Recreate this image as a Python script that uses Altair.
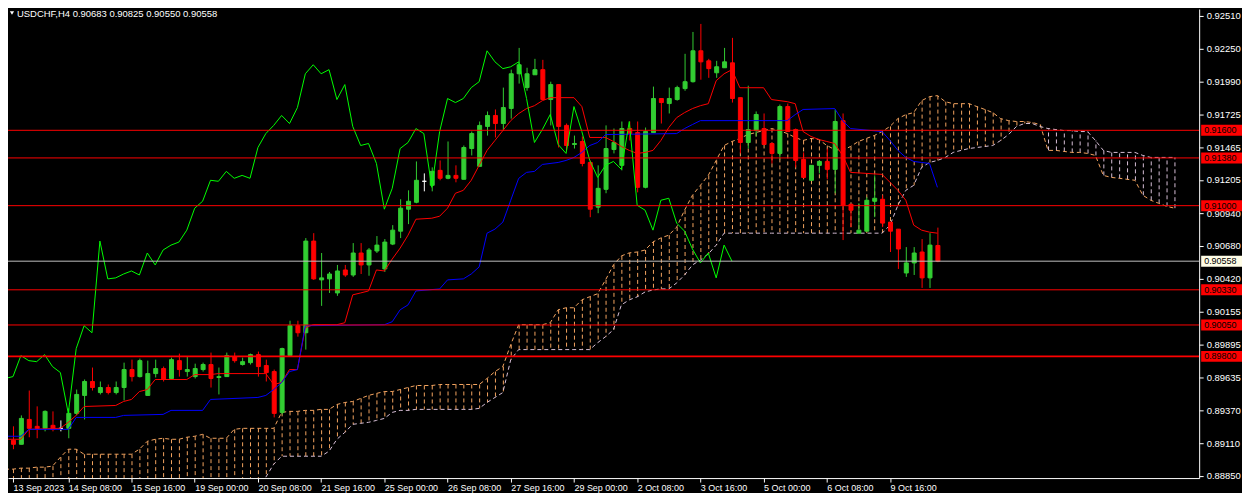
import altair as alt
import pandas as pd
import numpy as np

# ---------------- candles: USDCHF H4, bar 0 = 13 Sep 2023 00:00 ----------------
opens = [
    0.88918, 0.89132, 0.89100, 0.89298, 0.89243, 0.89227, 0.89251, 0.89227, 0.89227, 0.89346,
    0.89489, 0.89600, 0.89512, 0.89552, 0.89512, 0.89552, 0.89695, 0.89639, 0.89489, 0.89663,
    0.89703, 0.89624, 0.89766, 0.89679, 0.89639, 0.89695, 0.89735, 0.89632, 0.89639, 0.89798,
    0.89735, 0.89750, 0.89814, 0.89727, 0.89679, 0.89354, 0.89806, 0.90044, 0.89988, 0.90718,
    0.90409, 0.90417, 0.90305, 0.90488, 0.90448, 0.90623, 0.90528, 0.90639, 0.90496, 0.90694,
    0.90797, 0.90972, 0.91027, 0.91194, 0.91162, 0.91281, 0.91218, 0.91241, 0.91210, 0.91455,
    0.91313, 0.91631, 0.91718, 0.91654, 0.91774, 0.92050, 0.91940, 0.92042, 0.92083, 0.91845,
    0.91964, 0.91639, 0.91487, 0.91511, 0.91344, 0.90988, 0.91130, 0.91447, 0.91321, 0.91614,
    0.91582, 0.91146, 0.91582, 0.91853, 0.91813, 0.91845, 0.91932, 0.91987, 0.92233, 0.92153,
    0.92058, 0.92098, 0.92137, 0.91860, 0.91503, 0.91598, 0.91614, 0.91495, 0.91416, 0.91789,
    0.91606, 0.91368, 0.91202, 0.91321, 0.91352, 0.91289, 0.91677, 0.91011, 0.90781, 0.90797,
    0.91035, 0.91051, 0.90869, 0.90813, 0.90464, 0.90544, 0.90631, 0.90425, 0.90683]
highs = [
    0.89156, 0.89243, 0.89330, 0.89528, 0.89402, 0.89370, 0.89362, 0.89290, 0.89386, 0.89536,
    0.89616, 0.89711, 0.89600, 0.89576, 0.89600, 0.89750, 0.89774, 0.89782, 0.89766, 0.89774,
    0.89719, 0.89790, 0.89822, 0.89798, 0.89742, 0.89750, 0.89830, 0.89711, 0.89830, 0.89830,
    0.89790, 0.89822, 0.89838, 0.89774, 0.89695, 0.89869, 0.90084, 0.90084, 0.90742, 0.90781,
    0.90623, 0.90472, 0.90528, 0.90528, 0.90702, 0.90702, 0.90663, 0.90758, 0.90734, 0.90845,
    0.91051, 0.91122, 0.91352, 0.91257, 0.91305, 0.91360, 0.91511, 0.91321, 0.91479, 0.91590,
    0.91670, 0.91750, 0.91766, 0.91940, 0.92083, 0.92256, 0.92098, 0.92169, 0.92161, 0.91987,
    0.91964, 0.91654, 0.91558, 0.91551, 0.91360, 0.91321, 0.91639, 0.91614, 0.91670, 0.91670,
    0.91670, 0.91622, 0.91948, 0.91853, 0.91940, 0.91955, 0.92209, 0.92383, 0.92447, 0.92169,
    0.92153, 0.92256, 0.92336, 0.91860, 0.91955, 0.91750, 0.91734, 0.91503, 0.91805, 0.91813,
    0.91614, 0.91424, 0.91321, 0.91360, 0.91455, 0.91766, 0.91734, 0.91011, 0.91019, 0.91067,
    0.91241, 0.91083, 0.90869, 0.90813, 0.90670, 0.90670, 0.90734, 0.90781, 0.90825]
lows = [
    0.88902, 0.89061, 0.89100, 0.89156, 0.89148, 0.89203, 0.89203, 0.89203, 0.89148, 0.89330,
    0.89298, 0.89528, 0.89497, 0.89497, 0.89497, 0.89449, 0.89600, 0.89632, 0.89489, 0.89632,
    0.89600, 0.89616, 0.89639, 0.89639, 0.89624, 0.89679, 0.89552, 0.89497, 0.89639, 0.89750,
    0.89727, 0.89735, 0.89639, 0.89600, 0.89314, 0.89338, 0.89806, 0.89957, 0.89854, 0.90409,
    0.90202, 0.90305, 0.90282, 0.90433, 0.90433, 0.90456, 0.90442, 0.90623, 0.90472, 0.90686,
    0.90742, 0.90853, 0.91019, 0.91114, 0.91114, 0.91202, 0.91210, 0.91186, 0.91210, 0.91400,
    0.91313, 0.91558, 0.91543, 0.91598, 0.91693, 0.91972, 0.91915, 0.92042, 0.91845, 0.91639,
    0.91463, 0.91440, 0.91455, 0.91313, 0.90908, 0.90940, 0.91099, 0.91416, 0.91281, 0.91519,
    0.91106, 0.91138, 0.91582, 0.91654, 0.91734, 0.91836, 0.91915, 0.91980, 0.92003, 0.92018,
    0.92018, 0.92098, 0.91821, 0.91416, 0.91455, 0.91551, 0.91487, 0.91336, 0.91368, 0.91590,
    0.91305, 0.91218, 0.91202, 0.91257, 0.91210, 0.91099, 0.90726, 0.90829, 0.90781, 0.90797,
    0.90908, 0.90829, 0.90631, 0.90496, 0.90433, 0.90448, 0.90345, 0.90345, 0.90550]
closes = [
    0.89140, 0.89100, 0.89306, 0.89227, 0.89227, 0.89362, 0.89219, 0.89227, 0.89346, 0.89497,
    0.89600, 0.89552, 0.89552, 0.89512, 0.89552, 0.89695, 0.89639, 0.89766, 0.89663, 0.89703,
    0.89616, 0.89774, 0.89695, 0.89695, 0.89703, 0.89735, 0.89624, 0.89639, 0.89806, 0.89766,
    0.89758, 0.89814, 0.89719, 0.89671, 0.89346, 0.89862, 0.90044, 0.89988, 0.90718, 0.90417,
    0.90425, 0.90456, 0.90480, 0.90448, 0.90623, 0.90528, 0.90647, 0.90686, 0.90710, 0.90805,
    0.90980, 0.91035, 0.91202, 0.91194, 0.91273, 0.91218, 0.91241, 0.91218, 0.91463, 0.91574,
    0.91639, 0.91718, 0.91654, 0.91781, 0.92050, 0.92122, 0.92050, 0.92083, 0.91845, 0.91964,
    0.91631, 0.91479, 0.91495, 0.91336, 0.90972, 0.91138, 0.91455, 0.91503, 0.91614, 0.91574,
    0.91146, 0.91590, 0.91853, 0.91821, 0.91853, 0.91940, 0.91987, 0.92233, 0.92145, 0.92091,
    0.92106, 0.92145, 0.91853, 0.91503, 0.91606, 0.91726, 0.91487, 0.91416, 0.91789, 0.91590,
    0.91360, 0.91225, 0.91321, 0.91352, 0.91289, 0.91670, 0.91003, 0.90964, 0.90805, 0.91043,
    0.91059, 0.90861, 0.90797, 0.90655, 0.90544, 0.90623, 0.90425, 0.90686, 0.90558]

# ---------------- Ichimoku lines ----------------
tenkan_bars = [0, 2, 3, 7, 8, 9, 10, 14, 15, 16, 17, 18, 19, 23, 24, 26, 27, 33, 34, 35,
               36, 37, 38, 39, 42, 43, 44, 45, 46, 47, 48, 49, 50, 51, 52, 54, 55, 56, 57, 58,
               59, 60, 61, 62, 63, 64, 65, 66, 67, 68, 69, 72, 73, 74, 76, 77, 78, 79, 80, 81,
               82, 83, 84, 85, 86, 87, 88, 89, 90, 91, 92, 93, 96, 97, 99, 100, 101, 102, 103, 104,
               105, 106, 107, 111, 112, 113, 114, 115, 116, 117, 118]
tenkan_vals = [0.89140, 0.89140, 0.89219, 0.89227, 0.89275, 0.89330, 0.89401, 0.89409, 0.89441, 0.89457,
               0.89520, 0.89536, 0.89616, 0.89616, 0.89655, 0.89655, 0.89663, 0.89663, 0.89576, 0.89592,
               0.89695, 0.89695, 0.90028, 0.90052, 0.90052, 0.90068, 0.90290, 0.90305, 0.90321, 0.90488,
               0.90480, 0.90575, 0.90662, 0.90765, 0.90892, 0.90900, 0.90916, 0.90980, 0.91099, 0.91122,
               0.91202, 0.91321, 0.91440, 0.91519, 0.91598, 0.91677, 0.91733, 0.91773, 0.91796, 0.91836,
               0.91860, 0.91860, 0.91789, 0.91543, 0.91543, 0.91511, 0.91471, 0.91440, 0.91416, 0.91424,
               0.91440, 0.91519, 0.91622, 0.91701, 0.91741, 0.91773, 0.91796, 0.91812, 0.91995, 0.92050,
               0.92083, 0.91939, 0.91939, 0.91845, 0.91828, 0.91812, 0.91590, 0.91551, 0.91527, 0.91511,
               0.91495, 0.91400, 0.91265, 0.91249, 0.91186, 0.91122, 0.91043, 0.90845, 0.90805, 0.90789,
               0.90781]

kijun_bars = [0, 2, 3, 8, 9, 14, 15, 20, 21, 25, 26, 32, 33, 34, 35, 36, 37, 38, 48, 49,
              50, 51, 52, 55, 56, 58, 59, 60, 61, 62, 63, 64, 65, 66, 67, 68, 70, 71, 72, 73,
              74, 75, 76, 85, 86, 87, 88, 99, 100, 101, 105, 106, 107, 111, 112, 113, 114, 115, 116, 117,
              118]
kijun_vals = [0.89164, 0.89164, 0.89219, 0.89219, 0.89314, 0.89314, 0.89330, 0.89338, 0.89370, 0.89370,
              0.89457, 0.89473, 0.89489, 0.89536, 0.89592, 0.89679, 0.89695, 0.90044, 0.90052, 0.90076,
              0.90171, 0.90210, 0.90321, 0.90337, 0.90409, 0.90417, 0.90456, 0.90512, 0.90781, 0.90813,
              0.90869, 0.91043, 0.91217, 0.91265, 0.91273, 0.91328, 0.91344, 0.91360, 0.91384, 0.91424,
              0.91479, 0.91503, 0.91566, 0.91574, 0.91614, 0.91646, 0.91677, 0.91677, 0.91725, 0.91766,
              0.91773, 0.91677, 0.91614, 0.91590, 0.91519, 0.91440, 0.91384, 0.91352, 0.91344, 0.91336,
              0.91146]

# Senkou span A / B, one value per bar (bar 0 .. 148)
senkou_a = [
    0.88902, 0.88902, 0.88910, 0.88910, 0.88918, 0.88918, 0.88926, 0.88997, 0.89061, 0.89061,
    0.89021, 0.89021, 0.89021, 0.89021, 0.89021, 0.89021, 0.89021, 0.89061, 0.89124, 0.89140,
    0.89148, 0.89140, 0.89140, 0.89156, 0.89164, 0.89179, 0.89148, 0.89148, 0.89148, 0.89219,
    0.89227, 0.89227, 0.89227, 0.89227, 0.89227, 0.89354, 0.89362, 0.89362, 0.89370, 0.89370,
    0.89378, 0.89378, 0.89417, 0.89433, 0.89441, 0.89465, 0.89489, 0.89505, 0.89520, 0.89520,
    0.89536, 0.89552, 0.89568, 0.89568, 0.89568, 0.89576, 0.89576, 0.89576, 0.89576, 0.89576,
    0.89576, 0.89624, 0.89679, 0.89719, 0.89893, 0.90052, 0.90052, 0.90052, 0.90052, 0.90068,
    0.90171, 0.90187, 0.90187, 0.90250, 0.90275, 0.90299, 0.90409, 0.90528, 0.90600, 0.90624,
    0.90631, 0.90647, 0.90711, 0.90743, 0.90765, 0.90829, 0.90964, 0.91083, 0.91162, 0.91241,
    0.91360, 0.91479, 0.91511, 0.91535, 0.91566, 0.91582, 0.91598, 0.91614, 0.91598, 0.91574,
    0.91543, 0.91519, 0.91535, 0.91527, 0.91479, 0.91447, 0.91440, 0.91471, 0.91511, 0.91535,
    0.91558, 0.91590, 0.91631, 0.91693, 0.91725, 0.91741, 0.91836, 0.91868, 0.91876, 0.91828,
    0.91812, 0.91812, 0.91812, 0.91789, 0.91766, 0.91741, 0.91693, 0.91677, 0.91670, 0.91670,
    0.91662, 0.91646, 0.91440, 0.91440, 0.91432, 0.91424, 0.91424, 0.91416, 0.91400, 0.91241,
    0.91225, 0.91218, 0.91210, 0.91202, 0.91083, 0.91043, 0.91019, 0.90995, 0.90980]
senkou_b = [
    0.88700, 0.88700, 0.88700, 0.88700, 0.88700, 0.88700, 0.88700, 0.88700, 0.88700, 0.88700,
    0.88700, 0.88700, 0.88700, 0.88700, 0.88700, 0.88700, 0.88700, 0.88700, 0.88700, 0.88700,
    0.88700, 0.88700, 0.88700, 0.88700, 0.88700, 0.88700, 0.88700, 0.88700, 0.88700, 0.88700,
    0.88700, 0.88700, 0.88700, 0.88838, 0.88942, 0.89005, 0.89005, 0.89005, 0.89005, 0.89005,
    0.89005, 0.89045, 0.89140, 0.89195, 0.89259, 0.89267, 0.89275, 0.89290, 0.89306, 0.89354,
    0.89370, 0.89370, 0.89378, 0.89378, 0.89378, 0.89378, 0.89378, 0.89378, 0.89378, 0.89378,
    0.89386, 0.89433, 0.89473, 0.89512, 0.89774, 0.89854, 0.89854, 0.89854, 0.89854, 0.89854,
    0.89854, 0.89854, 0.89854, 0.89854, 0.89854, 0.89909, 0.89957, 0.90012, 0.90210, 0.90250,
    0.90274, 0.90313, 0.90329, 0.90337, 0.90337, 0.90385, 0.90448, 0.90528, 0.90567, 0.90615,
    0.90686, 0.90781, 0.90781, 0.90781, 0.90781, 0.90781, 0.90781, 0.90781, 0.90781, 0.90781,
    0.90781, 0.90781, 0.90781, 0.90781, 0.90781, 0.90781, 0.90781, 0.90781, 0.90781, 0.90781,
    0.90781, 0.90781, 0.90845, 0.91003, 0.91122, 0.91162, 0.91305, 0.91344, 0.91360, 0.91384,
    0.91424, 0.91440, 0.91455, 0.91463, 0.91471, 0.91479, 0.91519, 0.91566, 0.91630, 0.91654,
    0.91654, 0.91630, 0.91614, 0.91606, 0.91598, 0.91598, 0.91590, 0.91590, 0.91519, 0.91440,
    0.91424, 0.91424, 0.91424, 0.91424, 0.91400, 0.91384, 0.91384, 0.91384, 0.91384]

# ---------------- axes, levels, header ----------------
tick_labels = ["13 Sep 2023", "14 Sep 08:00", "15 Sep 16:00", "19 Sep 00:00", "20 Sep 08:00",
               "21 Sep 16:00", "25 Sep 00:00", "26 Sep 08:00", "27 Sep 16:00", "29 Sep 00:00",
               "2 Oct 08:00", "3 Oct 16:00", "5 Oct 00:00", "6 Oct 08:00", "9 Oct 16:00"]
tick_bars = [1, 8, 16, 24, 32, 40, 48, 56, 64, 72, 80, 88, 96, 104, 112]
price_ticks = [0.92510, 0.92250, 0.91990, 0.91725, 0.91465, 0.91205, 0.90940, 0.90680,
               0.90420, 0.90155, 0.89895, 0.89635, 0.89370, 0.89110, 0.88850]
level_prices = [0.91600, 0.91380, 0.91000, 0.90330, 0.90050, 0.89800]
current_price = 0.90558
header = "USDCHF,H4  0.90683 0.90825 0.90550 0.90558"

BULL, BEAR, DOJI = "#32CD32", "#FF0000", "#FFFFFF"
SANDY, THISTLE = "#F4A460", "#D8BFD8"
W, H = 1196, 471
FONT = "Liberation Sans"
FS = 9.5
FSX = 9

# ---------------- data frames ----------------
n = min(len(opens), len(highs), len(lows), len(closes))
candles = pd.DataFrame({"k": list(range(n)), "open": opens[:n], "high": highs[:n],
                        "low": lows[:n], "close": closes[:n]})
candles["dir"] = np.select([candles["close"] > candles["open"], candles["close"] < candles["open"]],
                           ["up", "down"], "doji")

chikou = pd.DataFrame({"k": [i - 26 for i in range(26, n)], "v": closes[26:n]})
tenkan = pd.DataFrame(list(zip(tenkan_bars, tenkan_vals)), columns=["k", "v"])
kijun = pd.DataFrame(list(zip(kijun_bars, kijun_vals)), columns=["k", "v"])
m = min(len(senkou_a), len(senkou_b))
cloud = pd.DataFrame({"k": list(range(m)), "a": senkou_a[:m], "b": senkou_b[:m]})
cloud["col"] = np.where(cloud["a"] >= cloud["b"], SANDY, THISTLE)

levels = pd.DataFrame({
    "price": level_prices + [current_price],
    "line": ["#FF0000"] * len(level_prices) + ["#C0C0C0"],
    "w": [1, 1, 1, 1, 1, 1.6, 1],
    "box": ["#FF0000"] * len(level_prices) + ["#FFFDE6"],
})
levels["label"] = levels["price"].map(lambda p: f"{p:.5f}")

# ---------------- scales / axes ----------------
xs = alt.Scale(domain=[1, 150.5], nice=False, zero=False)
ys = alt.Scale(domain=[0.88831, 0.92566], nice=False, zero=False)
label_expr = "[" + ",".join("'" + t + "'" for t in tick_labels) + "][floor(datum.value / 8)]"
xaxis = alt.Axis(values=tick_bars, labelExpr=label_expr, title=None, grid=False,
                 domainColor="#FFFFFF", domainWidth=1, tickColor="#FFFFFF", tickSize=4, tickWidth=1,
                 labelColor="#FFFFFF", labelFont=FONT, labelFontSize=FSX, labelAlign="left",
                 labelBaseline="top", labelPadding=1, labelAngle=0, labelOverlap=False,
                 labelBound=False, labelFlush=False)
yaxis = alt.Axis(values=price_ticks, format=".5f", orient="right", title=None, grid=False,
                 domainColor="#FFFFFF", domainWidth=1, tickColor="#FFFFFF", tickSize=4, tickWidth=1,
                 labelColor="#FFFFFF", labelFont=FONT, labelFontSize=FS, labelPadding=3,
                 labelAlign="left", labelBaseline="middle", labelOverlap=False,
                 labelBound=False, labelFlush=False)


def X(f="k"):
    return alt.X(f + ":Q", scale=xs, axis=xaxis)


def Y(f):
    return alt.Y(f + ":Q", scale=ys, axis=yaxis)


dir_scale = alt.Scale(domain=["up", "down", "doji"], range=[BULL, BEAR, DOJI])

hatch = alt.Chart(cloud).mark_rule(strokeDash=[4, 3], strokeWidth=1, xOffset=0.5, clip=True).encode(
    x=X(), y=Y("a"), y2="b:Q", color=alt.Color("col:N", scale=None))
line_a = alt.Chart(cloud).mark_line(strokeDash=[4, 3], strokeWidth=1, color=SANDY, clip=True).encode(
    x=X(), y=Y("a"))
line_b = alt.Chart(cloud).mark_line(strokeDash=[4, 3], strokeWidth=1, color=THISTLE, clip=True).encode(
    x=X(), y=Y("b"))

wicks = alt.Chart(candles).mark_rule(strokeWidth=1, xOffset=0.5, clip=True).encode(
    x=X(), y=Y("low"), y2="high:Q", color=alt.Color("dir:N", scale=dir_scale, legend=None))
bodies = alt.Chart(candles).mark_bar(size=4, strokeWidth=1, xOffset=0.5, clip=True).encode(
    x=X(), y=Y("open"), y2="close:Q",
    color=alt.Color("dir:N", scale=dir_scale, legend=None),
    stroke=alt.Stroke("dir:N", scale=dir_scale, legend=None))

tenkan_l = alt.Chart(tenkan).mark_line(color="#FF0000", strokeWidth=1, clip=True).encode(x=X(), y=Y("v"))
kijun_l = alt.Chart(kijun).mark_line(color="#0000FF", strokeWidth=1, clip=True).encode(x=X(), y=Y("v"))
chikou_l = alt.Chart(chikou).mark_line(color="#00FF00", strokeWidth=1, clip=True).encode(x=X(), y=Y("v"))

level_rules = alt.Chart(levels).mark_rule(clip=True).encode(
    y=Y("price"), color=alt.Color("line:N", scale=None), strokeWidth=alt.StrokeWidth("w:Q", scale=None))
level_boxes = alt.Chart(levels).mark_tick(orient="horizontal", size=41, thickness=11, opacity=1).encode(
    x=alt.value(W + 22.5), y=Y("price"), color=alt.Color("box:N", scale=None))
level_text = alt.Chart(levels).mark_text(align="left", baseline="middle", font=FONT, fontSize=9,
                                         color="#000000").encode(
    x=alt.value(W + 5), y=Y("price"), text="label:N")

head = pd.DataFrame({"t": [header]})
head_text = alt.Chart(head).mark_text(align="left", baseline="top", font=FONT, fontSize=FS,
                                      color="#FFFFFF").encode(x=alt.value(9), y=alt.value(0), text="t:N")
head_tri = alt.Chart(head).mark_point(shape="triangle-down", filled=True, color="#FFFFFF", size=18,
                                      opacity=1).encode(x=alt.value(4), y=alt.value(4))

chart = alt.layer(
    hatch, line_a, line_b, wicks, bodies, tenkan_l, kijun_l, chikou_l,
    level_rules, level_boxes, level_text, head_text, head_tri
).properties(width=W, height=H, padding=0, background="#000000").configure_view(stroke=None)

chart.save("out.html", embed_options={"renderer": "svg", "actions": False})
